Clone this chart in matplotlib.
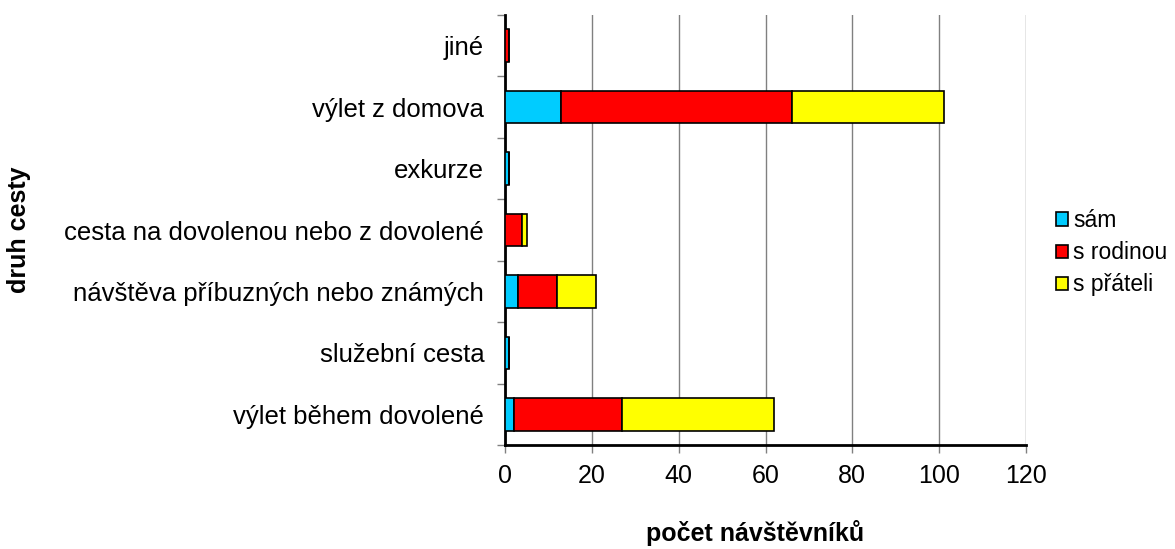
import matplotlib.pyplot as plt
import numpy as np

plt.rcParams["font.family"] = ["Liberation Sans", "DejaVu Sans"]

categories = [
    "výlet během dovolené",
    "služební cesta",
    "návštěva příbuzných nebo známých",
    "cesta na dovolenou nebo z dovolené",
    "exkurze",
    "výlet z domova",
    "jiné",
]
sam = [2, 1, 3, 0, 1, 13, 0]
s_rodinou = [25, 0, 9, 4, 0, 53, 1]
s_prateli = [35, 0, 9, 1, 0, 35, 0]

series = [("sám", sam, "#00CCFF"), ("s rodinou", s_rodinou, "#FF0000"), ("s přáteli", s_prateli, "#FFFF00")]

fig = plt.figure(figsize=(11.75, 5.49), dpi=100)
ax = fig.add_axes([505 / 1175, 1 - 445 / 549, (1026 - 505) / 1175, (445 - 15) / 549])

y = np.arange(len(categories))
left = np.zeros(len(categories))
for name, vals, color in series:
    ax.barh(y, vals, left=left, height=0.53, color=color, edgecolor="black",
            linewidth=1.2, label=name, zorder=3)
    left += np.array(vals)

ax.set_xlim(0, 120)
ax.set_ylim(-0.5, len(categories) - 0.5)
ax.set_xticks(range(0, 121, 20))
ax.set_yticks(y)
ax.set_yticklabels(categories, fontsize=18.5)
ax.tick_params(axis="y", length=0, pad=15)
ax.set_yticks(np.arange(-0.5, len(categories), 1), minor=True)
ax.tick_params(axis="y", which="minor", length=6, width=1, color="#808080")
ax.tick_params(axis="x", labelsize=18, length=6, width=1, color="#808080", pad=8)
ax.xaxis.grid(True, color="#808080", linewidth=1, zorder=0)
ax.set_axisbelow(True)

for side in ["top", "right"]:
    ax.spines[side].set_visible(False)
for side in ["left", "bottom"]:
    ax.spines[side].set_linewidth(2)
    ax.spines[side].set_color("black")

ax.set_xlabel("počet návštěvníků", fontsize=18, weight="bold")
ax.xaxis.set_label_coords(0.48, -0.175)
ax.set_ylabel("druh cesty", fontsize=18, weight="bold")
ax.yaxis.set_label_coords(-0.91, 0.5)

ax.legend(loc="center left", bbox_to_anchor=(1.058, 0.447), frameon=False,
          fontsize=16.5, handlelength=0.5, handleheight=0.5, handletextpad=0.25,
          labelspacing=0.4, borderpad=0, borderaxespad=0)

plt.savefig("out.png", dpi=100)
plt.close()
